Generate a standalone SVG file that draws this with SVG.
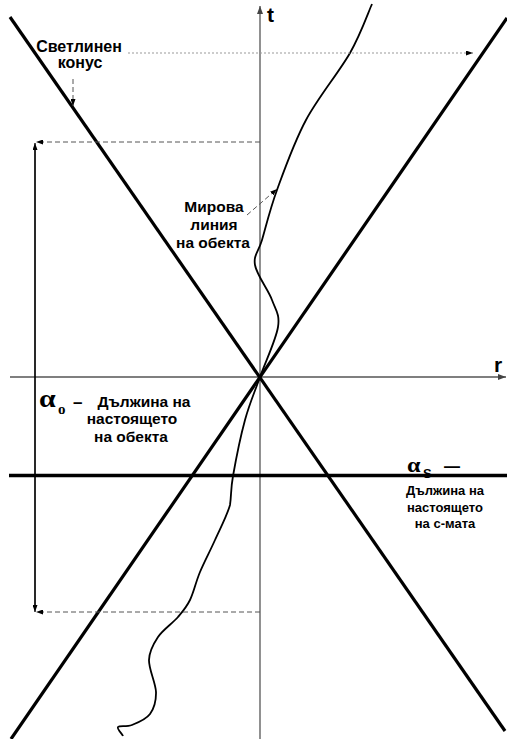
<svg xmlns="http://www.w3.org/2000/svg" width="507" height="739" viewBox="0 0 507 739">
<defs>
<marker id="ah" markerWidth="8" markerHeight="6" refX="8" refY="3" orient="auto" markerUnits="userSpaceOnUse"><path d="M0,0 L8,3 L0,6 Z" fill="#000"/></marker>
<marker id="ahg" markerWidth="8" markerHeight="6" refX="8" refY="3" orient="auto" markerUnits="userSpaceOnUse"><path d="M0,0 L8,3 L0,6 Z" fill="#444"/></marker>
<marker id="ahs" markerWidth="7" markerHeight="5" refX="7" refY="2.5" orient="auto" markerUnits="userSpaceOnUse"><path d="M0,0 L7,2.5 L0,5 Z" fill="#000"/></marker>
</defs>
<style>
.ax{stroke:#555;stroke-width:1.3;fill:none}
.cone{stroke:#000;stroke-width:3.2;fill:none;stroke-linecap:butt}
.wl{stroke:#000;stroke-width:1.8;fill:none}
.dash{stroke:#555;stroke-width:1;stroke-dasharray:5,3;fill:none}
.dot{stroke:#999;stroke-width:1;stroke-dasharray:2,2;fill:none}
.lbl{font-family:"Liberation Sans",Arial,sans-serif;font-weight:bold;fill:#000}
.gr{font-family:"Liberation Serif","Times New Roman",serif;font-weight:bold;fill:#000}
</style>
<rect width="507" height="739" fill="#fff"/>
<g id="connectors">
<line class="ax" x1="260" y1="739" x2="260" y2="6" marker-end="url(#ahg)"/>
<line class="ax" x1="10" y1="377" x2="506" y2="377" marker-end="url(#ahg)"/>
<line class="cone" x1="10" y1="17" x2="505" y2="731"/>
<line class="cone" x1="507" y1="18" x2="11" y2="739"/>
<path class="wl" d="M372,4 C368.3,12.2 361,33.7 350,53 C339,72.3 318.2,97.2 306,120 C293.8,142.8 284.3,170 277,190 C269.7,210 265.7,227.5 262,240 C258.3,252.5 253.3,255 255,265 C256.7,275 268.2,289.7 272,300 C275.8,310.3 280,314.2 278,327 C276,339.8 265.5,361.5 260,377 C254.5,392.5 249.5,403.5 245,420 C240.5,436.5 235.5,461.8 233,476 C230.5,490.2 231.5,495 230,505 C227,515.7 220,528.8 215,540 C210,551.2 204.2,562 200,572 C195.8,582 193.7,592.5 190,600 C186.3,607.5 183.3,610.8 178,617 C172.7,623.2 162.8,629.8 158,637 C153.2,644.2 149.3,650.8 149,660 C148.7,669.2 155.8,683 156,692 C156.2,701 154,708.5 150,714 C146,719.5 137.3,722.8 132,725 C126.7,727.2 119.5,725.3 118,727 C116.5,728.7 122.2,733.7 123,736"/>
<line x1="35" y1="608" x2="35" y2="143" stroke="#000" stroke-width="1.2" marker-end="url(#ahs)"/>
<line x1="35" y1="147" x2="35" y2="612" stroke="#000" stroke-width="1.2" marker-end="url(#ahs)"/>
<line class="dash" x1="260" y1="142" x2="36" y2="142" marker-end="url(#ahs)"/>
<line class="dash" x1="260" y1="612" x2="36" y2="612" marker-end="url(#ahs)"/>
<line class="dot" x1="128" y1="53" x2="473" y2="53" marker-end="url(#ahs)"/>
<line class="dash" x1="73" y1="79" x2="73" y2="106" marker-end="url(#ahs)"/>
<line class="dash" x1="247" y1="215" x2="277" y2="189" marker-end="url(#ahs)"/>
</g>
<g id="axis-t"><text class="lbl" x="267" y="22" font-size="21">t</text></g>
<g id="axis-r"><text class="lbl" x="494" y="372" font-size="21">r</text></g>
<g id="light-cone"><text class="lbl" x="79" y="52" font-size="16" text-anchor="middle">Светлинен</text><text class="lbl" x="80" y="68" font-size="16" text-anchor="middle">конус</text></g>
<g id="world-line"><text class="lbl" x="214" y="212" font-size="15.5" text-anchor="middle">Мирова</text><text class="lbl" x="214" y="230" font-size="15.5" text-anchor="middle">линия</text><text class="lbl" x="213" y="248" font-size="15.5" text-anchor="middle">на обекта</text></g>
<g id="alpha-o"><text class="gr" x="39" y="407" font-size="26" transform="translate(39 407) scale(1.15 1) translate(-39 -407)">α</text><text class="gr" x="58" y="414" font-size="15" font-weight="normal">o</text><text class="lbl" x="73" y="408" font-size="17">–</text><text class="lbl" x="144" y="407" font-size="15.5" text-anchor="middle">Дължина на</text><text class="lbl" x="132" y="424" font-size="15.5" text-anchor="middle">настоящето</text><text class="lbl" x="131" y="442" font-size="15.5" text-anchor="middle">на обекта</text></g>
<g id="alpha-s"><text class="gr" x="407" y="472" font-size="22" transform="translate(407 472) scale(1.1 1) translate(-407 -472)">α</text><text class="lbl" x="423" y="478" font-size="13" font-weight="normal">S</text><text class="lbl" x="444" y="472" font-size="16">—</text><text class="lbl" x="445" y="495" font-size="13" text-anchor="middle">Дължина на</text><text class="lbl" x="445" y="512" font-size="13" text-anchor="middle">настоящето</text><text class="lbl" x="445" y="528" font-size="13" text-anchor="middle">на с-мата</text></g>
<g id="present-line"><line x1="9" y1="475.5" x2="507" y2="475.5" stroke="#000" stroke-width="3.5"/></g>
</svg>
